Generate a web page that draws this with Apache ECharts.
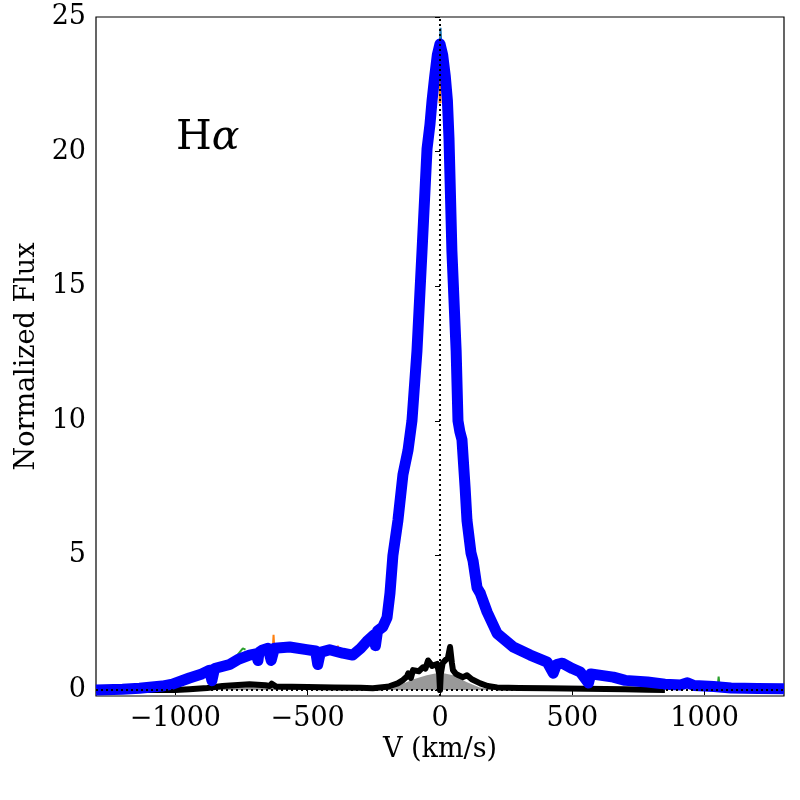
<!DOCTYPE html>
<html>
<head>
<meta charset="utf-8">
<script src="https://cdn.jsdelivr.net/npm/echarts@6/dist/echarts.min.js"></script>
<style>
  html, body { margin: 0; padding: 0; background: #fff; }
  #chart { width: 800px; height: 800px; }
</style>
</head>
<body>
<div id="chart"></div>
<script>
// velocity (km/s), normalized flux
const blueProfile = [
  [-1300, 0.0], [-1200, 0.03], [-1136, 0.07], [-1050, 0.15], [-1011, 0.22],
  [-947, 0.45], [-900, 0.6], [-871, 0.74], [-862, 0.35], [-852, 0.8],
  [-795, 0.95], [-760, 1.15], [-720, 1.3], [-692, 1.35], [-688, 1.1],
  [-684, 1.4], [-670, 1.49], [-650, 1.55], [-638, 1.1], [-626, 1.55],
  [-568, 1.6], [-504, 1.5], [-470, 1.45], [-462, 0.95], [-452, 1.4],
  [-417, 1.5], [-367, 1.37], [-330, 1.3], [-300, 1.55], [-277, 1.8],
  [-250, 2.05], [-244, 1.65], [-236, 2.2], [-216, 2.35], [-200, 2.7],
  [-189, 3.6], [-178, 5.0], [-159, 6.3], [-140, 8.0], [-121, 8.9],
  [-106, 10.0], [-87, 12.6], [-68, 16.3], [-49, 20.1], [-38, 21.0],
  [-30, 21.9], [-20, 22.8], [-10, 23.6], [0, 24.0], [10, 23.6],
  [20, 22.8], [28, 21.9], [34, 20.5], [45, 16.3], [61, 12.6],
  [68, 10.0], [75, 9.6], [83, 9.3], [95, 7.5], [102, 6.3],
  [117, 5.1], [125, 4.8], [140, 3.8], [152, 3.6], [178, 2.9],
  [216, 2.1], [277, 1.6], [341, 1.3], [405, 1.04], [428, 0.63],
  [440, 0.95], [462, 1.0], [500, 0.8], [530, 0.67], [561, 0.26],
  [570, 0.6], [655, 0.48], [700, 0.36], [784, 0.3], [850, 0.22],
  [909, 0.19], [935, 0.27], [960, 0.17], [1034, 0.13], [1100, 0.08],
  [1200, 0.06], [1300, 0.05]
];

const blackProfile = [
  [-1300, 0.0], [-1000, 0.0], [-947, 0.03], [-880, 0.08], [-822, 0.15],
  [-720, 0.22], [-660, 0.18], [-644, 0.15], [-636, 0.24], [-620, 0.13],
  [-500, 0.11], [-400, 0.1], [-300, 0.09], [-254, 0.07], [-200, 0.12],
  [-189, 0.15], [-160, 0.25], [-140, 0.37], [-125, 0.5], [-120, 0.62],
  [-110, 0.45], [-102, 0.74], [-80, 0.7], [-64, 0.85], [-55, 0.8],
  [-45, 1.1], [-30, 0.9], [-11, 0.97], [-3, 0.6], [0, 0.0],
  [3, 0.6], [10, 1.0], [19, 1.1], [30, 1.2], [38, 1.6],
  [45, 1.0], [49, 0.74], [60, 0.6], [70, 0.55], [87, 0.48],
  [102, 0.55], [120, 0.4], [152, 0.25], [180, 0.15], [216, 0.1],
  [300, 0.08], [405, 0.07], [550, 0.05], [700, 0.03], [784, 0.01],
  [850, 0.0]
];

const greyFill = [
  [-950, 0.0], [-900, 0.05], [-800, 0.15], [-700, 0.2], [-600, 0.15],
  [-500, 0.05], [-400, 0.02], [-200, 0.05], [-150, 0.2], [-100, 0.4],
  [-50, 0.55], [0, 0.65], [50, 0.55], [100, 0.3], [150, 0.1],
  [200, 0.03], [300, 0.0]
];

const orangeSpikes = [
  [-632, 1.5], [-629, 2.05], [-626, 1.5], null,
  [-389, 1.4], [-386, 1.65], [-383, 1.4], null,
  [-2, 21.8], [0, 22.7], [2, 21.8], null,
  [164, 3.3], [167, 3.7], [170, 3.3]
];
const greenSpikes = [
  [-790, 1.05], [-770, 1.25], [-745, 1.55], [-735, 1.5], null,
  [1050, 0.2], [1053, 0.5], [1056, 0.2]
];
const tealSpikes = [
  [-1, 23.9], [2, 24.6], [5, 24.0], null,
  [-900, 0.55], [-860, 0.62], [-820, 0.85]
];

const xTicks = [-1000, -500, 0, 500, 1000];
const yTicks = [0, 5, 10, 15, 20, 25];

const SERIF = 'DejaVu Serif';
const FS = 27;
const fmt = v => (v < 0 ? '\u2212' + Math.abs(v) : String(v));

const chart = echarts.init(document.getElementById('chart'));
chart.setOption({
  animation: false,
  backgroundColor: '#fff',
  grid: { left: 96, right: 16, top: 17, bottom: 104, show: true, borderColor: '#000', borderWidth: 1.2 },
  xAxis: {
    type: 'value', min: -1300, max: 1300,
    name: 'V (km/s)', nameLocation: 'middle', nameGap: 34,
    nameTextStyle: { fontFamily: SERIF, fontSize: FS, color: '#000' },
    axisLine: { show: false },
    splitLine: { show: false },
    axisTick: { show: true, customValues: xTicks, length: 5, lineStyle: { color: '#000', width: 1 } },
    axisLabel: { customValues: xTicks, formatter: fmt, margin: 9, fontFamily: SERIF, fontSize: FS, color: '#000' }
  },
  yAxis: {
    type: 'value', min: -0.22, max: 25,
    name: 'Normalized Flux', nameLocation: 'middle', nameGap: 54,
    nameTextStyle: { fontFamily: SERIF, fontSize: FS, color: '#000' },
    axisLine: { show: false },
    splitLine: { show: false },
    axisTick: { show: true, customValues: yTicks, length: 5, lineStyle: { color: '#000', width: 1 } },
    axisLabel: { customValues: yTicks, formatter: fmt, margin: 10, fontFamily: SERIF, fontSize: FS, color: '#000' }
  },
  graphic: [{
    type: 'text', left: 176, top: 118, z: 100,
    style: {
      text: '{h|H}{a|α}',
      rich: {
        h: { fontFamily: SERIF, fontSize: 41, fill: '#000' },
        a: { fontFamily: SERIF, fontSize: 41, fontStyle: 'italic', fill: '#000' }
      }
    }
  }],
  series: [
    {
      type: 'line', data: greyFill, showSymbol: false, z: 1,
      lineStyle: { width: 0 }, areaStyle: { color: '#999999', opacity: 1 }
    },
    {
      type: 'line', data: blackProfile, showSymbol: false, z: 2,
      lineStyle: { color: '#000', width: 6, cap: 'butt', join: 'round' }
    },
    {
      type: 'line', data: tealSpikes, showSymbol: false, z: 3, connectNulls: false,
      lineStyle: { color: '#1f77b4', width: 2 }
    },
    {
      type: 'line', data: greenSpikes, showSymbol: false, z: 3, connectNulls: false,
      lineStyle: { color: '#2ca02c', width: 2 }
    },
    {
      type: 'line', data: orangeSpikes, showSymbol: false, z: 3, connectNulls: false,
      lineStyle: { color: '#ff7f0e', width: 2 }
    },
    {
      type: 'line', data: blueProfile, showSymbol: false, z: 4,
      lineStyle: { color: '#0000ff', width: 11, cap: 'butt', join: 'round' }
    },
    {
      type: 'line', data: [], z: 5,
      markLine: {
        silent: true, symbol: 'none', label: { show: false },
        lineStyle: { color: '#000', width: 2, type: [2, 3] },
        data: [{ xAxis: 0 }, { yAxis: 0 }]
      }
    }
  ]
});
</script>
</body>
</html>
